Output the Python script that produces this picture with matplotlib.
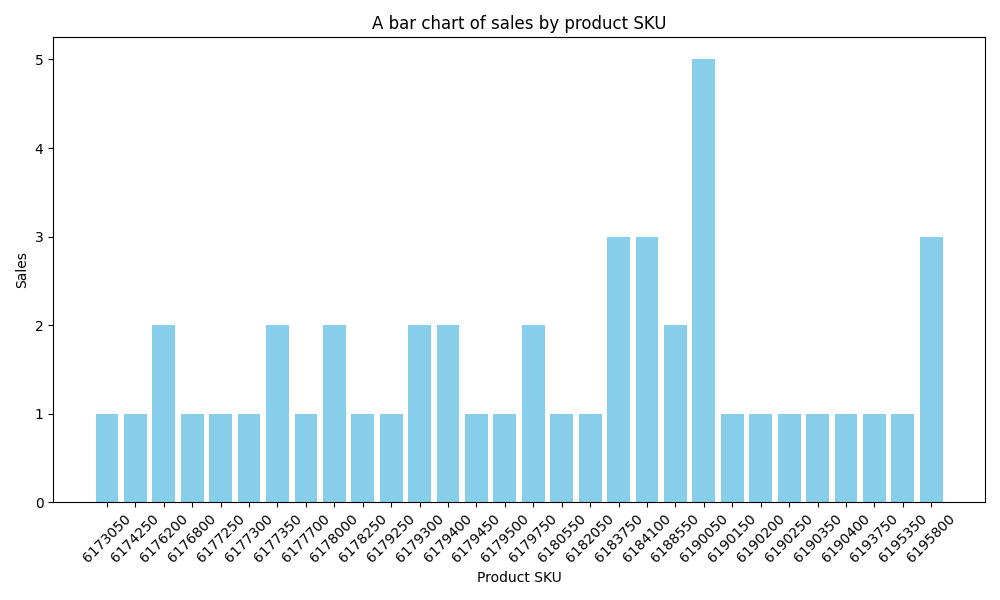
import matplotlib
matplotlib.use("Agg")
import matplotlib.pyplot as plt

skus = ["6173050","6174250","6176200","6176800","6177250","6177300","6177350","6177700",
        "6178000","6178250","6179250","6179300","6179400","6179450","6179500","6179750",
        "6180550","6182050","6183750","6184100","6188550","6190050","6190150","6190200",
        "6190250","6190350","6190400","6193750","6195350","6195800"]
sales = [1,1,2,1,1,1,2,1,2,1,1,2,2,1,1,2,1,1,3,3,2,5,1,1,1,1,1,1,1,3]

fig, ax = plt.subplots(figsize=(10, 6), dpi=100)
ax.bar(skus, sales, color="skyblue")
ax.set_title("A bar chart of sales by product SKU")
ax.set_xlabel("Product SKU")
ax.set_ylabel("Sales")
plt.xticks(rotation=45)
plt.tight_layout()
fig.savefig("out.png")
